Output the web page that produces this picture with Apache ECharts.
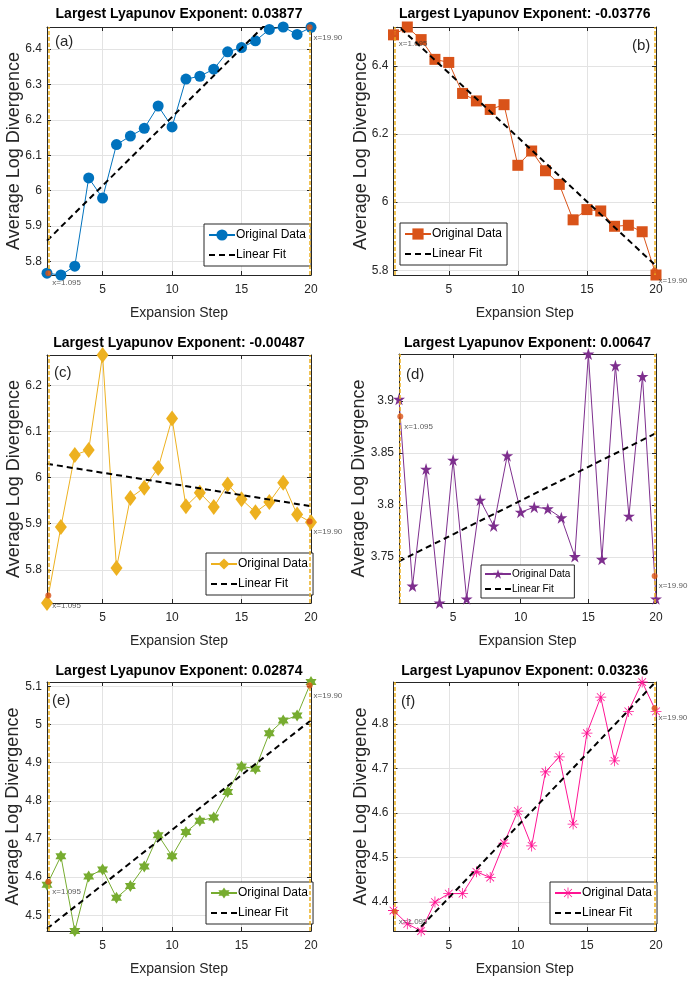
<!DOCTYPE html>
<html>
<head>
<meta charset="utf-8">
<script src="https://cdn.jsdelivr.net/npm/echarts@6/dist/echarts.min.js"></script>
<style>
  html, body { margin: 0; padding: 0; background: #fff; }
  #page { position: relative; width: 689px; height: 983px; overflow: hidden; }
  .panel { position: absolute; width: 345px; height: 328px; }
</style>
</head>
<body>
<div id="page">
  <div class="panel" id="pa" style="left:0;top:0"></div>
  <div class="panel" id="pb" style="left:344px;top:0"></div>
  <div class="panel" id="pc" style="left:0;top:326px"></div>
  <div class="panel" id="pd" style="left:344px;top:326px"></div>
  <div class="panel" id="pe" style="left:0;top:655px"></div>
  <div class="panel" id="pf" style="left:344px;top:655px"></div>
</div>
<script>
// expansion steps shared by all panels
var steps = [1, 2, 3, 4, 5, 6, 7, 8, 9, 10, 11, 12, 13, 14, 15, 16, 17, 18, 19, 20];

// average log divergence
var valsA = [5.767, 5.762, 5.787, 6.036, 5.979, 6.130, 6.154, 6.176, 6.239, 6.180, 6.315, 6.323, 6.343, 6.392, 6.404, 6.423, 6.455, 6.462, 6.441, 6.461];
var valsB = [6.491, 6.514, 6.477, 6.419, 6.410, 6.319, 6.297, 6.272, 6.286, 6.108, 6.150, 6.092, 6.052, 5.948, 5.978, 5.974, 5.929, 5.932, 5.913, 5.786];
var valsC = [5.728, 5.893, 6.049, 6.060, 6.266, 5.804, 5.956, 5.978, 6.021, 6.128, 5.938, 5.967, 5.936, 5.985, 5.953, 5.925, 5.947, 5.989, 5.920, 5.903];
var valsD = [3.9016, 3.7223, 3.8345, 3.7060, 3.8432, 3.7100, 3.8048, 3.7800, 3.8474, 3.7932, 3.7980, 3.7965, 3.7878, 3.7506, 3.9450, 3.7480, 3.9338, 3.7894, 3.9235, 3.7100];
var valsE = [4.580, 4.655, 4.459, 4.602, 4.620, 4.546, 4.577, 4.628, 4.710, 4.655, 4.718, 4.748, 4.756, 4.823, 4.890, 4.884, 4.977, 5.010, 5.023, 5.111];
var valsF = [4.381, 4.351, 4.335, 4.400, 4.419, 4.419, 4.468, 4.455, 4.532, 4.604, 4.526, 4.692, 4.726, 4.575, 4.779, 4.860, 4.717, 4.828, 4.894, 4.828];

// linear fit, value at step 1 and at step 20
var fitX = [1, 20];
var fitA = [5.859, 6.596];
var fitB = [6.530, 5.813];
var fitC = [6.030, 5.938];
var fitD = [3.746, 3.869];
var fitE = [4.465, 5.011];
var fitF = [4.280, 4.895];

// marked range limits and the points picked on the curve
var markX = [1.095, 19.90];
var markText = ['x=1.095', 'x=19.90'];
var dotA = [5.767, 6.461];
var dotB = [6.493, 5.799];
var dotC = [5.744, 5.905];
var dotD = [3.885, 3.732];
var dotE = [4.588, 5.102];
var dotF = [4.378, 4.835];

var titles = [
    'Largest Lyapunov Exponent: 0.03877',
    'Largest Lyapunov Exponent: -0.03776',
    'Largest Lyapunov Exponent: -0.00487',
    'Largest Lyapunov Exponent: 0.00647',
    'Largest Lyapunov Exponent: 0.02874',
    'Largest Lyapunov Exponent: 0.03236'
];
var letters = ['(a)', '(b)', '(c)', '(d)', '(e)', '(f)'];

var FONT = '"Liberation Sans", Arial, sans-serif';
var INK = '#262626';

// marker shapes
var STAR5 = 'path://M0,-10L2.245,-3.09L9.511,-3.09L3.633,1.18L5.878,8.09L0,3.82L-5.878,8.09L-3.633,1.18L-9.511,-3.09L-2.245,-3.09Z';
var STAR6 = 'path://M0,-10L2.887,-5L8.66,-5L5.774,0L8.66,5L2.887,5L0,10L-2.887,5L-8.66,5L-5.774,0L-8.66,-5L-2.887,-5Z';
var ASTER = 'path://M-0.7,-10L0.7,-10L0.7,10L-0.7,10Z M-10,-0.7L10,-0.7L10,0.7L-10,0.7Z M-6.5,-7.5L7.5,6.5L6.5,7.5L-7.5,-6.5Z M6.5,-7.5L7.5,-6.5L-6.5,7.5L-7.5,6.5Z';

function pairs(xs, ys) {
    return xs.map(function(x, i) { return [x, ys[i]]; });
}

function drawPanel(id, p) {
    var chart = echarts.init(document.getElementById(id), null, { renderer: 'canvas' });
    var yMin = Math.min.apply(null, p.vals);
    var yMax = Math.max.apply(null, p.vals);
    var g = p.grid;
    var baseX = {
        type: 'value', min: 1, max: 20, splitNumber: 4,
        axisLine: { show: true, onZero: false, lineStyle: { color: INK, width: 1 } },
        axisTick: { show: true, inside: true, length: 4, lineStyle: { color: INK } }
    };
    var baseY = {
        type: 'value', min: yMin, max: yMax, splitNumber: p.split, scale: true,
        axisLine: { show: true, onZero: false, lineStyle: { color: INK, width: 1 } },
        axisTick: { show: true, inside: true, length: 4, lineStyle: { color: INK } }
    };
    chart.setOption({
        animation: false,
        textStyle: { fontFamily: FONT },
        title: {
            text: p.title, left: g.left + g.width / 2, top: p.titleTop, textAlign: 'center', padding: 0,
            textStyle: { fontFamily: FONT, fontSize: 14, fontWeight: 'bold', color: '#000' }
        },
        grid: { left: g.left, top: g.top, width: g.width, height: g.height, containLabel: false, outerBoundsMode: 'none' },
        legend: {
            orient: 'vertical', left: p.legend[0], top: p.legend[1],
            data: [{ name: 'Original Data' }, { name: 'Linear Fit', itemStyle: { opacity: 0 } }],
            backgroundColor: '#fff', borderColor: INK, borderWidth: 1,
            padding: p.legendPad, itemGap: p.legendGap, itemWidth: 26, itemHeight: p.legendItemH,
            textStyle: { fontFamily: FONT, fontSize: p.legendFont, color: '#000', padding: [0, 0, 0, -4] },
            selectedMode: false
        },
        xAxis: [
            echarts.util.merge({
                position: 'bottom',
                name: 'Expansion Step', nameLocation: 'middle', nameGap: 31, nameMoveOverlap: false,
                nameTextStyle: { fontFamily: FONT, fontSize: 14, color: INK },
                axisLabel: { show: true, showMinLabel: false, margin: 9, fontSize: 12, color: INK, fontFamily: FONT },
                splitLine: { show: true, lineStyle: { color: '#e3e3e3', width: 1 } }
            }, baseX, true),
            echarts.util.merge({
                position: 'top', axisLabel: { show: false }, splitLine: { show: false }
            }, baseX, true)
        ],
        yAxis: [
            echarts.util.merge({
                position: 'left',
                name: 'Average Log Divergence', nameLocation: 'middle', nameGap: p.yNameGap, nameMoveOverlap: false,
                nameTextStyle: { fontFamily: FONT, fontSize: 18, color: INK },
                axisLabel: { show: true, showMinLabel: false, showMaxLabel: false, margin: 5, fontSize: 12, color: INK, fontFamily: FONT },
                splitLine: { show: true, lineStyle: { color: '#e3e3e3', width: 1 } }
            }, baseY, true),
            echarts.util.merge({
                position: 'right', axisLabel: { show: false }, splitLine: { show: false }
            }, baseY, true)
        ],
        graphic: [{
            type: 'text', left: p.letterPos[0], top: p.letterPos[1],
            style: { text: p.letter, fill: INK, font: '15px ' + FONT }
        }],
        series: [
            {
                type: 'line', name: 'Original Data', data: pairs(steps, p.vals),
                symbol: p.symbol, symbolSize: p.symbolSize, showSymbol: true, clip: false, z: 3,
                lineStyle: { color: p.color, width: 1 },
                itemStyle: { color: p.color }
            },
            {
                type: 'line', name: 'Linear Fit', data: pairs(fitX, p.fit),
                symbol: 'none', clip: true, z: 4,
                lineStyle: { color: '#000', width: 2, type: [6, 4] },
                itemStyle: { color: '#000' }
            },
            {
                type: 'scatter', name: 'picked', data: pairs(markX, p.dots),
                symbol: 'circle', symbolSize: 6, z: 5, clip: false,
                itemStyle: { color: '#D95319' },
                label: {
                    show: true, position: 'right', distance: 1, offset: [0, 10],
                    fontSize: 8, color: '#333', fontFamily: FONT,
                    formatter: function(d) { return markText[d.dataIndex]; }
                },
                markLine: {
                    silent: true, symbol: ['none', 'none'], label: { show: false },
                    lineStyle: { color: '#EDB120', width: 1.5, type: [4, 2] },
                    data: [{ xAxis: markX[0] }, { xAxis: markX[1] }]
                }
            }
        ]
    });
}

var padBig = [5, 5, 5, 4];
var padSmall = [4, 4, 4, 3];

drawPanel('pa', {
    title: titles[0], letter: letters[0], vals: valsA, fit: fitA, dots: dotA,
    color: '#0072BD', symbol: 'circle', symbolSize: 11, split: 5,
    grid: { left: 47, top: 27, width: 264, height: 248 }, titleTop: 7,
    legend: [204, 224], legendPad: padBig, legendGap: 8, legendItemH: 14, legendFont: 12,
    yNameGap: 24, letterPos: [55, 34]
});
drawPanel('pb', {
    title: titles[1], letter: letters[1], vals: valsB, fit: fitB, dots: dotB,
    color: '#D95319', symbol: 'rect', symbolSize: 11, split: 3,
    grid: { left: 49.5, top: 27, width: 262.5, height: 248 }, titleTop: 7,
    legend: [56, 223], legendPad: padBig, legendGap: 8, legendItemH: 14, legendFont: 12,
    yNameGap: 23, letterPos: [288, 38]
});
drawPanel('pc', {
    title: titles[2], letter: letters[2], vals: valsC, fit: fitC, dots: dotC,
    color: '#EDB120', symbol: 'diamond', symbolSize: [12, 16], split: 5,
    grid: { left: 47, top: 29, width: 264, height: 248 }, titleTop: 10,
    legend: [206, 227], legendPad: padBig, legendGap: 8, legendItemH: 14, legendFont: 12,
    yNameGap: 24, letterPos: [54, 39]
});
drawPanel('pd', {
    title: titles[3], letter: letters[3], vals: valsD, fit: fitD, dots: dotD,
    color: '#7E2F8E', symbol: STAR5, symbolSize: 12, split: 5,
    grid: { left: 55, top: 28, width: 257, height: 249 }, titleTop: 10,
    legend: [137, 239], legendPad: padSmall, legendGap: 5, legendItemH: 12, legendFont: 10,
    yNameGap: 31, letterPos: [62, 41]
});
drawPanel('pe', {
    title: titles[4], letter: letters[4], vals: valsE, fit: fitE, dots: dotE,
    color: '#77AC30', symbol: STAR6, symbolSize: [11, 12], split: 5,
    grid: { left: 47, top: 27, width: 264, height: 249 }, titleTop: 9,
    legend: [206, 227], legendPad: padBig, legendGap: 8, legendItemH: 14, legendFont: 12,
    yNameGap: 25, letterPos: [52, 38]
});
drawPanel('pf', {
    title: titles[5], letter: letters[5], vals: valsF, fit: fitF, dots: dotF,
    color: '#FF1493', symbol: ASTER, symbolSize: 11, split: 5,
    grid: { left: 49.5, top: 27, width: 262.5, height: 249 }, titleTop: 9,
    legend: [206, 227], legendPad: padBig, legendGap: 8, legendItemH: 14, legendFont: 12,
    yNameGap: 23, letterPos: [57, 39]
});
</script>
</body>
</html>
